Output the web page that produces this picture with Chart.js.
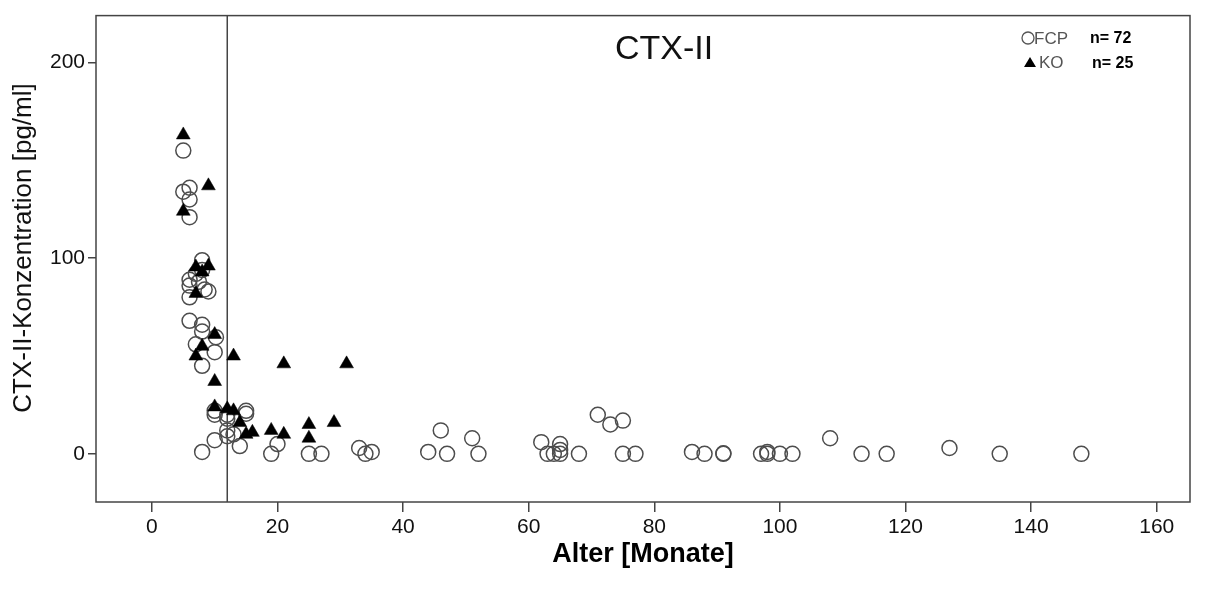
<!DOCTYPE html>
<html>
<head>
<meta charset="utf-8">
<script src="https://cdn.jsdelivr.net/npm/chart.js@4/dist/chart.umd.min.js"></script>
<style>
  html, body { margin: 0; padding: 0; background: #fff; }
  #wrap { width: 1211px; height: 590px; position: relative; }
</style>
</head>
<body>
<div id="wrap"><canvas id="ctxChart"></canvas></div>
<script>
// FCP group (open circles), n = 72
const fcpAge = [5, 5, 6, 6, 6, 8, 8, 7, 6, 7.5, 6, 8.4, 9, 6, 6, 8, 8, 10.2, 7, 10, 8, 10, 10, 15, 15, 12, 12, 12, 13, 12,
  10, 8, 14, 19, 20, 25, 27, 33, 34, 35, 44, 46, 47, 51, 52, 62, 63, 64, 65, 65, 65, 68, 71, 73, 75, 75, 77, 86, 88, 91,
  91, 97, 98, 98, 100, 102, 108, 113, 117, 127, 135, 148];
const fcpCtx = [155, 134, 136, 130, 121, 99, 94, 92, 89, 88, 86, 84, 83, 80, 68, 66, 62.5, 59.6, 56, 52, 45, 20, 22, 22, 20.5, 18, 20, 9, 10, 12,
  7, 1, 4, 0, 5, 0, 0, 3, 0, 1, 1, 12, 0, 8, 0, 6, 0, 0, 0, 2, 5, 0, 20, 15, 17, 0, 0, 1, 0, 0,
  0.3, 0, 1, 0, 0, 0, 8, 0, 0, 3, 0, 0];

// KO group (filled triangles), n = 25
const koAge = [5, 9, 5, 7, 9, 8, 7, 10, 8, 7, 13, 21, 31, 10, 10, 12, 13, 14, 15, 16, 19, 21, 25, 25, 29];
const koCtx = [163, 137, 124, 95.5, 96, 93, 82, 61, 55, 50, 50, 46, 46, 37, 24, 23, 22, 16, 10, 11, 12, 10, 15, 8, 16];

const xTicks = [0, 20, 40, 60, 80, 100, 120, 140, 160];
const yTicks = [0, 100, 200];
const cutoffAge = 12;

const toPoints = (xs, ys) => xs.map((x, i) => ({ x: x, y: ys[i] }));

const FONT = "'Liberation Sans', Arial, Helvetica, sans-serif";

// frame, y axis title, in-plot title and the small legend top right
const decorations = {
  id: 'decorations',
  afterDraw(chart) {
    const { ctx, chartArea: a } = chart;
    ctx.save();
    ctx.strokeStyle = '#444';
    ctx.lineWidth = 1.5;
    ctx.strokeRect(a.left, a.top, a.right - a.left, a.bottom - a.top);

    ctx.fillStyle = '#111';
    ctx.textAlign = 'center';
    ctx.textBaseline = 'middle';

    ctx.save();
    ctx.translate(24, 248);
    ctx.rotate(-Math.PI / 2);
    ctx.font = '26px ' + FONT;
    ctx.fillText('CTX-II-Konzentration [pg/ml]', 0, 0);
    ctx.restore();

    ctx.font = '34px ' + FONT;
    ctx.fillText('CTX-II', 664, 50);

    // legend
    ctx.strokeStyle = '#555';
    ctx.lineWidth = 1.3;
    ctx.beginPath();
    ctx.arc(1028, 38, 6, 0, Math.PI * 2);
    ctx.stroke();

    ctx.fillStyle = '#000';
    ctx.beginPath();
    ctx.moveTo(1030, 57);
    ctx.lineTo(1036, 67);
    ctx.lineTo(1024, 67);
    ctx.closePath();
    ctx.fill();

    ctx.textAlign = 'left';
    ctx.fillStyle = '#555';
    ctx.font = '17px ' + FONT;
    ctx.fillText('FCP', 1034, 39);
    ctx.fillText('KO', 1039, 63);

    ctx.fillStyle = '#000';
    ctx.font = 'bold 16px ' + FONT;
    ctx.fillText('n= 72', 1090, 39);
    ctx.fillText('n= 25', 1092, 64);
    ctx.restore();
  }
};

new Chart(document.getElementById('ctxChart'), {
  type: 'scatter',
  data: {
    datasets: [
      {
        label: 'KO',
        data: toPoints(koAge, koCtx),
        pointStyle: 'triangle',
        pointRadius: 8,
        backgroundColor: '#000',
        borderColor: '#000',
        borderWidth: 0.5,
        order: 0
      },
      {
        label: 'FCP',
        data: toPoints(fcpAge, fcpCtx),
        pointStyle: 'circle',
        pointRadius: 7.5,
        backgroundColor: 'rgba(0,0,0,0)',
        borderColor: '#4d4d4d',
        borderWidth: 1.5,
        order: 1
      },
      {
        label: 'cutoff',
        data: [{ x: cutoffAge, y: -30 }, { x: cutoffAge, y: 230 }],
        showLine: true,
        pointRadius: 0,
        borderColor: '#444',
        borderWidth: 1.5,
        order: 2
      }
    ]
  },
  options: {
    responsive: true,
    maintainAspectRatio: false,
    animation: false,
    events: [],
    layout: { padding: { top: 7, right: 21, left: 0, bottom: 0 } },
    plugins: {
      legend: { display: false },
      tooltip: { enabled: false }
    },
    scales: {
      x: {
        type: 'linear',
        min: -8.9,
        max: 165.3,
        afterBuildTicks: s => { s.ticks = xTicks.map(v => ({ value: v })); },
        afterFit: s => { s.height = 88; },
        grid: { drawOnChartArea: false, drawTicks: true, tickLength: 10, color: '#444', lineWidth: 1.5 },
        border: { display: false },
        ticks: { color: '#111', font: { family: FONT, size: 21 }, padding: 3, maxRotation: 0 },
        title: {
          display: true,
          text: 'Alter [Monate]',
          color: '#000',
          font: { family: FONT, size: 27, weight: 'bold' },
          padding: { top: 0, bottom: 19 }
        }
      },
      y: {
        type: 'linear',
        min: -24.6,
        max: 224,
        afterBuildTicks: s => { s.ticks = yTicks.map(v => ({ value: v })); },
        afterFit: s => { s.width = 96; },
        grid: { drawOnChartArea: false, drawTicks: true, tickLength: 8, color: '#444', lineWidth: 1.5 },
        border: { display: false },
        ticks: { color: '#111', font: { family: FONT, size: 21 }, padding: 3 }
      }
    }
  },
  plugins: [decorations]
});
</script>
</body>
</html>
